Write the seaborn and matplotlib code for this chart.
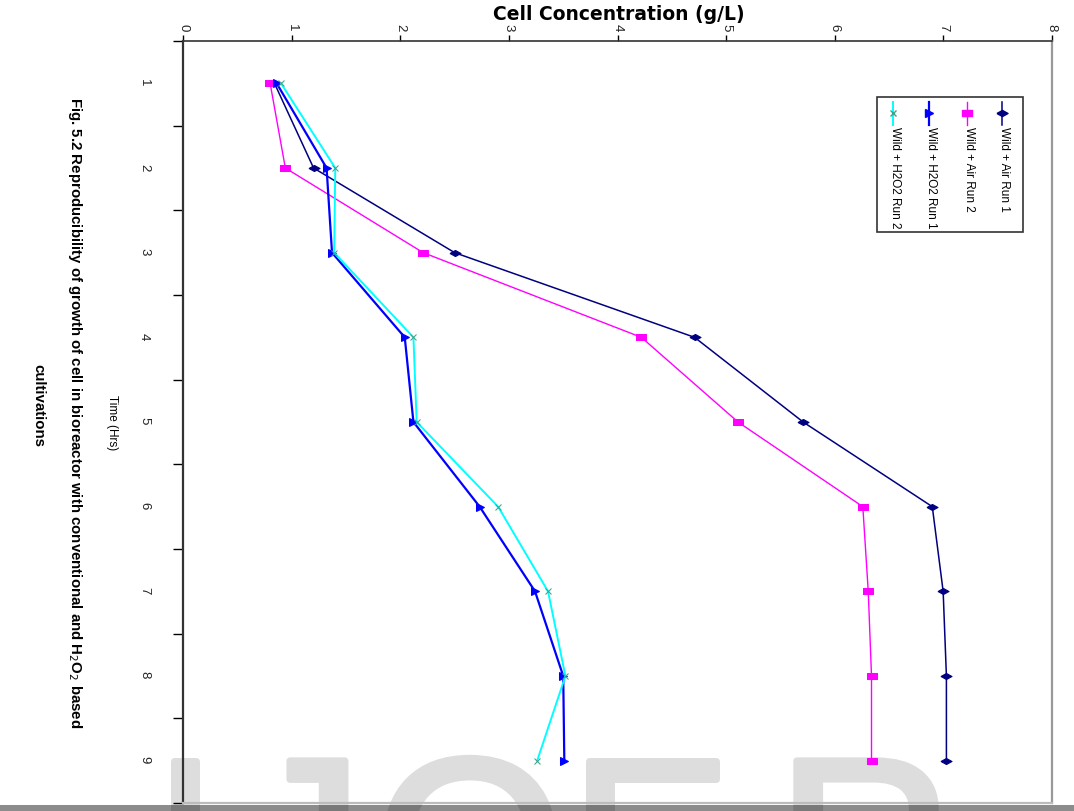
import pandas as pd
import seaborn as sns
import matplotlib.pyplot as plt
import matplotlib.patheffects as pe
from matplotlib.lines import Line2D
from matplotlib.patches import Rectangle

time_hrs = [1, 2, 3, 4, 5, 6, 7, 8, 9]
air_run1 = [0.84, 1.20, 2.50, 4.71, 5.71, 6.90, 7.00, 7.03, 7.03]
air_run2 = [0.80, 0.94, 2.21, 4.22, 5.11, 6.26, 6.31, 6.34, 6.34]
h2o2_run1 = [0.86, 1.32, 1.37, 2.04, 2.12, 2.73, 3.24, 3.50, 3.51]
h2o2_run2 = [0.90, 1.40, 1.39, 2.12, 2.15, 2.90, 3.36, 3.52, 3.26]
series_names = ["Wild + Air Run 1", "Wild + Air Run 2",
                "Wild + H2O2 Run 1", "Wild + H2O2 Run 2"]
conc_ticks = [0, 1, 2, 3, 4, 5, 6, 7, 8]
watermark = ["I", "J", "O", "E", "R"]

# styles
colors = ["#000080", "#FF00FF", "#0000FF", "#00FFFF"]
diamond = [(-1, 0), (0, 0.55), (1, 0), (0, -0.55), (-1, 0)]
rect = [(-1, -0.6), (1, -0.6), (1, 0.6), (-1, 0.6), (-1, -0.6)]
markers = [diamond, rect, ">", "x"]
msizes = [8, 6.5, 6, 5]
lwidths = [1.1, 1.0, 1.6, 1.4]
medge = ["#000080", "#FF00FF", "#0000FF", "#3aa58a"]

df = pd.DataFrame({
    "Time": time_hrs * 4,
    "Conc": air_run1 + air_run2 + h2o2_run1 + h2o2_run2,
    "Series": [s for s in series_names for _ in time_hrs],
})

W, H = 1074, 811


def fx(px):
    return px / W


def fy(py):
    return 1 - py / H


fig = plt.figure(figsize=(W / 100, H / 100), dpi=100)
fig.patch.set_facecolor("white")

# watermark letters, cut by the page edge like in the scan
wm_x = [185, 302, 470, 650, 865]
for ch, xc in zip(watermark, wm_x):
    fig.text(fx(xc), fy(753), ch, fontsize=176, color="#dddddd",
             family=["Liberation Sans", "DejaVu Sans"], ha="center", va="top",
             zorder=0, path_effects=[pe.withStroke(linewidth=5, foreground="#dddddd")])
fig.patches.append(Rectangle((0, 0), 1, fy(805), transform=fig.transFigure,
                             facecolor="black", alpha=0.45, edgecolor="none",
                             zorder=1))

ax = fig.add_axes([fx(183.3), fy(803), (1051.7 - 183.3) / W, (803 - 41) / H])
ax.set_facecolor("none")
ax.set_zorder(3)

for i, name in enumerate(series_names):
    sub = df[df.Series == name]
    sns.lineplot(data=sub, x="Conc", y="Time", orient="y", ax=ax,
                 color=colors[i], lw=lwidths[i], marker=markers[i],
                 markersize=msizes[i], markeredgecolor=medge[i],
                 markerfacecolor=medge[i], legend=False)

ax.set_xlim(0, 8)
ax.set_ylim(9.5, 0.5)
ax.set_xlabel("")
ax.set_ylabel("")

ax.xaxis.tick_top()
ax.set_xticks(conc_ticks)
ax.tick_params(axis="x", direction="out", length=4, width=1, pad=3,
               labelrotation=-90, labelsize=9.5, labelcolor="#222222")
ax.set_yticks(time_hrs)
ax.set_yticks([t - 0.5 for t in time_hrs] + [9.5], minor=True)
ax.tick_params(axis="y", which="major", length=0, pad=24,
               labelrotation=-90, labelsize=9.5, labelcolor="#222222")
ax.tick_params(axis="y", which="minor", direction="out", length=7, width=1)
for lab in ax.get_xticklabels() + ax.get_yticklabels():
    lab.set_family(["Liberation Sans", "DejaVu Sans"])

ax.spines["top"].set_color("#333333")
ax.spines["top"].set_linewidth(1.2)
ax.spines["left"].set_color("#333333")
ax.spines["left"].set_linewidth(1.6)
ax.spines["right"].set_color("#999999")
ax.spines["right"].set_linewidth(1.6)
ax.spines["bottom"].set_color("#bbbbbb")
ax.spines["bottom"].set_linewidth(1.6)

narrow = ["Liberation Sans Narrow", "Liberation Sans", "DejaVu Sans"]

fig.text(fx(619), fy(14), "Cell Concentration (g/L)", fontsize=13.5,
         weight="bold", family=["DejaVu Sans"], ha="center", va="center")
fig.text(fx(112), fy(423), "Time (Hrs)", fontsize=8.5, family=narrow,
         rotation=-90, ha="center", va="center")
fig.text(fx(75), fy(413),
         "Fig. 5.2 Reproducibility of growth of cell in bioreactor with "
         "conventional and H$_2$O$_2$ based",
         fontsize=10.8, weight="bold", family=narrow, rotation=-90,
         ha="center", va="center")
fig.text(fx(38), fy(405), "cultivations", fontsize=10.8, weight="bold",
         family=narrow, rotation=-90, ha="center", va="center")

# rotated legend, built by hand
x0, x1, y0, y1 = 876.7, 1023.3, 96.7, 231.7
fig.patches.append(Rectangle((fx(x0), fy(y1)), fx(x1) - fx(x0), fy(y0) - fy(y1),
                             transform=fig.transFigure, facecolor="white",
                             edgecolor="#333333", lw=1.2, zorder=5))
leg_x = [1002.3, 966.7, 929.3, 893.3]
for i, name in enumerate(series_names):
    fig.lines.append(Line2D([fx(leg_x[i])] * 2, [fy(101.7), fy(125)],
                            transform=fig.transFigure, color=colors[i],
                            lw=lwidths[i], zorder=6))
    fig.lines.append(Line2D([fx(leg_x[i])], [fy(113)], transform=fig.transFigure,
                            marker=markers[i], markersize=msizes[i],
                            color=medge[i], zorder=7))
    fig.text(fx(leg_x[i] + 2), fy(127), name, fontsize=8.5, family=narrow,
             rotation=-90, ha="center", va="top", zorder=7)

fig.savefig("out.png", dpi=100)
